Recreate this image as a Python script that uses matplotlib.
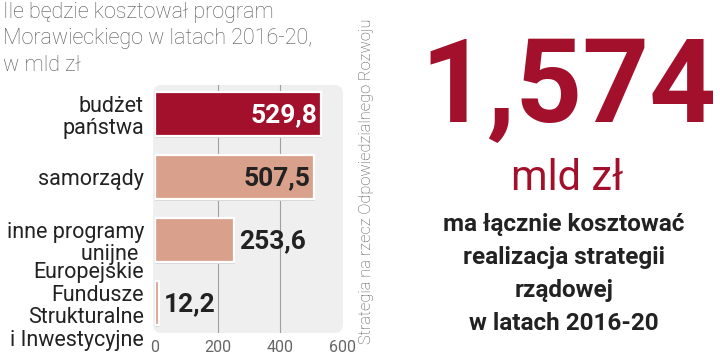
import matplotlib
matplotlib.use("Agg")
import matplotlib.pyplot as plt
from matplotlib.patches import FancyBboxPatch

# data
categories = ["budżet\npaństwa", "samorządy", "inne programy\nunijne ",
              "Europejskie\nFundusze\nStrukturalne\ni Inwestycyjne"]
values = [529.8, 507.5, 253.6, 12.2]
value_labels = ["529,8", "507,5", "253,6", "12,2"]
x_ticks = [0, 200, 400, 600]
total_label = "1,574"

dark_red = "#a3102c"
salmon = "#d9a18b"
text_dark = "#222222"
grey = "#666666"

plt.rcParams["font.family"] = ["Roboto", "DejaVu Sans"]

W, H = 720, 357
fig = plt.figure(figsize=(7.2, 3.57), dpi=100)
fig.patch.set_facecolor("white")

ax = fig.add_axes([155 / W, 1 - 333 / H, 188 / W, 248 / H])
ax.set_facecolor("none")
ax.set_xlim(0, 600)
ax.set_ylim(3.47, -0.46)

# light panel behind bars
panel = FancyBboxPatch((-0.01, 0.0), 1.01, 1.0, boxstyle="round,pad=0,rounding_size=0.04",
                       transform=ax.transAxes, facecolor="#efefef", edgecolor="none",
                       zorder=0, clip_on=False)
ax.add_patch(panel)
for gx in [200, 400]:
    ax.axvline(gx, color="#a0a0a0", lw=0.8, zorder=1)

colors = [dark_red, salmon, salmon, salmon]
ypos = list(range(len(values)))
# soft shadow
ax.barh([y + 0.03 for y in ypos], [v + 3 for v in values], height=0.7,
        color="#d6d6d6", zorder=2, left=0)
ax.barh(ypos, values, height=0.7, color=colors, edgecolor="white", linewidth=1.6, zorder=3)

for y, v, lab in zip(ypos, values, value_labels):
    if v > 400:
        ax.text(v - 12, y + 0.02, lab, ha="right", va="center", fontsize=19, fontweight="bold",
                color="white" if y == 0 else text_dark, zorder=4)
    else:
        ax.text(v + 16, y + 0.02, lab, ha="left", va="center", fontsize=19, fontweight="bold",
                color=text_dark, zorder=4)

ax.set_yticks(ypos)
ax.set_yticklabels(categories, fontsize=15.5, color=text_dark, linespacing=1.1)
ax.set_xticks(x_ticks)
ax.set_xticklabels([str(t) for t in x_ticks], fontsize=11.5, color=grey)
ax.tick_params(length=0, pad=5)
ax.tick_params(axis="y", pad=8)
for s in ax.spines.values():
    s.set_visible(False)

# title
fig.text(0.004, 0.995, "Ile będzie kosztował program\nMorawieckiego w latach 2016-20,\nw mld zł",
         ha="left", va="top", fontsize=15.5, fontweight="light", color="#555555",
         linespacing=1.34)

# source, vertical
fig.text(366 / W, 1 - 181 / H, "Strategia na rzecz Odpowiedzialnego Rozwoju", rotation=90,
         ha="center", va="center", fontsize=11.8, fontweight="light", color="#555555")

# big number
fig.text(569 / W, 1 - 122 / H, total_label, ha="center", va="baseline", fontsize=84,
         fontweight="bold", color=dark_red)
fig.text(567 / W, 1 - 190 / H, "mld zł", ha="center", va="baseline", fontsize=30,
         color=dark_red)
fig.text(564 / W, 1 - 213 / H,
         "ma łącznie kosztować\nrealizacja strategii\nrządowej\nw latach 2016-20",
         ha="center", va="top", fontsize=17.5, fontweight="bold",
         color=text_dark, linespacing=1.55)

fig.savefig("out.png", dpi=100, facecolor="white")
